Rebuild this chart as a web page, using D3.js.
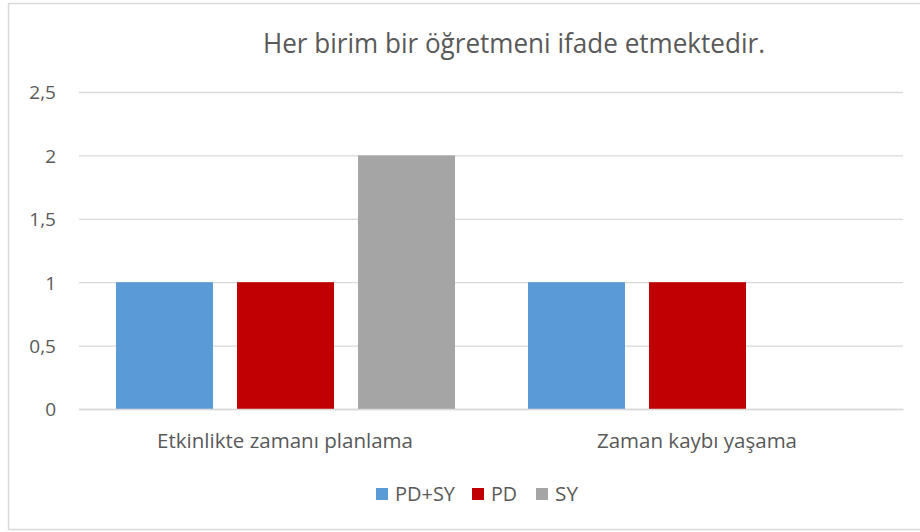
<!DOCTYPE html>
<html><head><meta charset="utf-8">
<script src="https://cdn.jsdelivr.net/npm/d3@7"></script>
<style>body{margin:0;background:#fff}svg{display:block}</style>
</head><body>
<script>
const categories = ["Etkinlikte zamanı planlama", "Zaman kaybı yaşama"];
const seriesNames = ["PD+SY", "PD", "SY"];
const seriesColors = ["#5B9BD5", "#C00000", "#A5A5A5"];
const valuesPDSY = [1, 1];
const valuesPD = [1, 1];
const valuesSY = [2, 0];
const yTicks = [0, 0.5, 1, 1.5, 2, 2.5];
const titleText = "Her birim bir öğretmeni ifade etmektedir.";

(function () {
const W = 920, H = 532;
const svg = d3.select("body").append("svg").attr("width", W).attr("height", H);
const font = "'Open Sans', sans-serif";
const textColor = "#595959";

svg.append("rect").attr("x", 8.5).attr("y", 3.5).attr("width", 930).attr("height", 526)
  .attr("fill", "#fff").attr("stroke", "#d9d9d9").attr("stroke-width", 1.5);

const mLeft = 79, mRight = 903, mTop = 92, mBottom = 409;
const x0 = d3.scaleBand().domain(categories).range([mLeft, mRight]).paddingInner(0).paddingOuter(0);
const y = d3.scaleLinear().domain([0, 2.5]).range([mBottom, mTop]);
const x1 = d3.scaleBand().domain(seriesNames).range([0, x0.bandwidth()])
  .paddingInner(24/121).paddingOuter(36.5/121).align(0.507);

const yAxis = d3.axisLeft(y).tickValues(yTicks).tickSize(-(mRight - mLeft)).tickFormat(d => String(d).replace(".", ","));
const gy = svg.append("g").attr("transform", `translate(${mLeft},0)`).call(yAxis);
gy.select(".domain").remove();
gy.selectAll(".tick line").attr("stroke", "#d9d9d9").attr("stroke-width", 1.3);
gy.selectAll(".tick text").attr("x", -23).attr("dy", "0.36em").attr("fill", textColor)
  .style("font-family", font).style("font-size", "19px");

const series = [valuesPDSY, valuesPD, valuesSY];
const data = [];
categories.forEach((c, i) => seriesNames.forEach((s, j) => data.push({c, s, v: series[j][i], color: seriesColors[j]})));
svg.append("g").selectAll("rect").data(data).join("rect")
  .attr("x", d => x0(d.c) + x1(d.s))
  .attr("width", x1.bandwidth())
  .attr("y", d => y(d.v))
  .attr("height", d => y(0) - y(d.v))
  .attr("fill", d => d.color);

const labelWidths = [256, 200];
const xAxis = d3.axisBottom(x0).tickSize(0);
const gx = svg.append("g").attr("transform", `translate(0,${mBottom})`).call(xAxis);
gx.select(".domain").attr("stroke", "#d9d9d9").attr("stroke-width", 1.3);
gx.selectAll(".tick text").attr("dy", 0).attr("y", 39).attr("fill", textColor)
  .style("font-family", font).style("font-size", "20px")
  .attr("textLength", (d, i) => labelWidths[i]).attr("lengthAdjust", "spacingAndGlyphs");

svg.append("text").attr("x", 514).attr("y", 53).attr("text-anchor", "middle")
  .attr("fill", textColor).style("font-size", "28px").style("font-family", font)
  .attr("textLength", 502).attr("lengthAdjust", "spacingAndGlyphs").text(titleText);

const legendX = [376, 472, 536];
const legendW = [60, 26, 23];
const lg = svg.append("g");
seriesNames.forEach((s, j) => {
  lg.append("rect").attr("x", legendX[j]).attr("y", 488).attr("width", 12).attr("height", 12).attr("fill", seriesColors[j]);
  lg.append("text").attr("x", legendX[j] + 19).attr("y", 501).attr("fill", textColor)
    .style("font-size", "20px").style("font-family", font)
    .attr("textLength", legendW[j]).attr("lengthAdjust", "spacingAndGlyphs").text(s);
});
})();
</script>
</body></html>
